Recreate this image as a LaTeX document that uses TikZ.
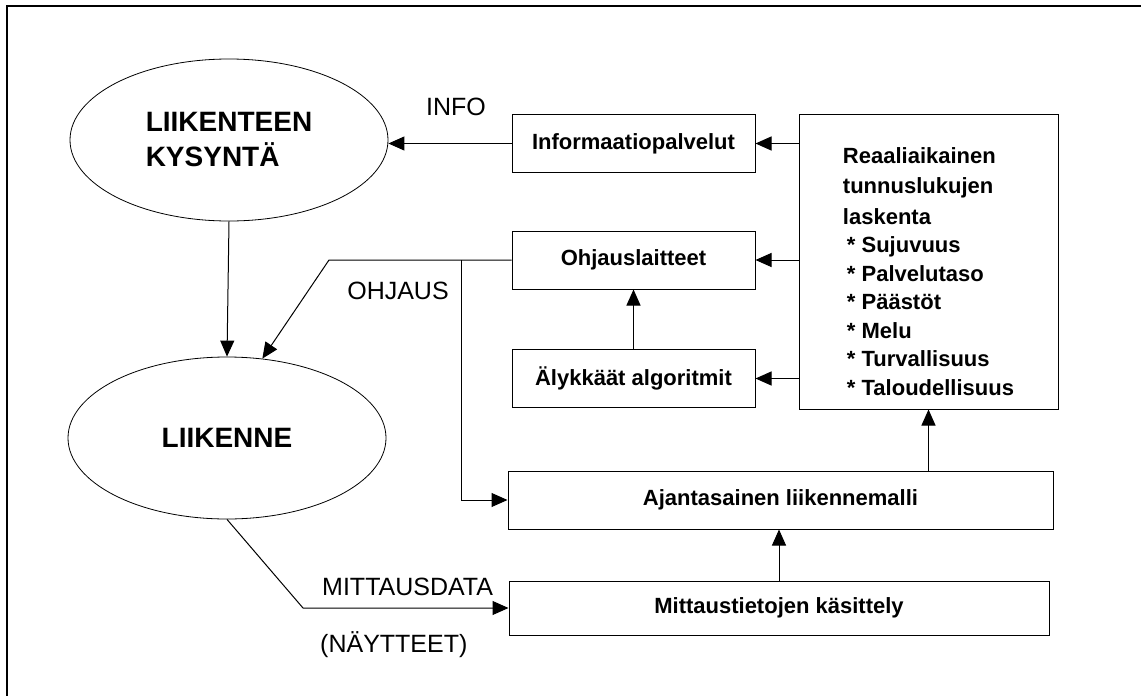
\documentclass[tikz,border=0pt]{standalone}
\usepackage{fontspec}
\setmainfont{Liberation Sans}
\usetikzlibrary{shapes.geometric,arrows.meta}
\newlength{\boxwidth}
\setlength{\boxwidth}{243pt}
\tikzset{
    procbox/.style={draw, line width=1pt, minimum width=\boxwidth, minimum height=58pt, inner sep=0pt, font=\fontsize{22}{26}\selectfont\bfseries},
    ovalnode/.style={draw, ellipse, line width=0.8pt, minimum width=318pt, minimum height=162pt, inner sep=0pt, align=left, font=\fontsize{28}{35}\selectfont\bfseries},
    conn/.style={line width=1pt, -{Triangle[length=16pt,width=14pt]}},
    edgelabel/.style={font=\fontsize{25}{30}\selectfont, inner sep=0pt},
}

\begin{document}
\begin{tikzpicture}[x=1pt, y=-1pt]
    \useasboundingbox (0,0) rectangle (1141,696);
    \draw[line width=2.5pt] (7,696) -- (7,6) -- (1141,6);

    \node[ovalnode] (kysynta) at (229,140) {LIIKENTEEN\\KYSYNTÄ};
    \node[ovalnode] (liikenne) at (227,438) {LIIKENNE};

    \node[procbox] (info) at (633.5,143.5) {Informaatiopalvelut};
    \node[procbox] (ohjaus) at (633.5,260) {Ohjauslaitteet};
    \node[procbox] (alykkaat) at (633.5,378.5) {Älykkäät algoritmit};
    \node[procbox, minimum width=259pt, minimum height=295pt, align=left, font=\fontsize{22}{28.5}\selectfont\bfseries] (laskenta) at (928.5,261.5)
        {\rule{0pt}{36pt}Reaaliaikainen\\[2pt]
         tunnuslukujen\\[2pt]
         laskenta\\
         \hspace{4pt}* Sujuvuus\\
         \hspace{4pt}* Palvelutaso\\
         \hspace{4pt}* Päästöt\\
         \hspace{4pt}* Melu\\
         \hspace{4pt}* Turvallisuus\\
         \hspace{4pt}* Taloudellisuus};
    \node[procbox, minimum width=545pt] (ajantasainen) at (780.5,500) {Ajantasainen liikennemalli};
    \node[procbox, minimum width=540pt, minimum height=54pt] (mittaus) at (779,608) {Mittaustietojen käsittely};

    \coordinate (ohjtaite) at (329,260);
    \coordinate (haara) at (461,260);
    \coordinate (mtaite) at (303,608);

    \draw[conn] (info.west) -- (info.west -| kysynta.east);
    \draw[conn] (laskenta.west |- info.east) -- (info.east);
    \draw[conn] (laskenta.west |- ohjaus.east) -- (ohjaus.east);
    \draw[conn] (laskenta.west |- alykkaat.east) -- (alykkaat.east);
    \draw[conn] (alykkaat.north) -- (ohjaus.south);
    \draw[conn] (kysynta.south) -- (liikenne.north);
    \draw[conn] (ohjaus.west) -- (ohjtaite) -- (liikenne.66);
    \draw[conn] (haara) |- (ajantasainen.west);
    \draw[conn] (liikenne.south) -- (mtaite) -- (mittaus.west);
    \draw[conn] (mittaus.north) -- (mittaus.north |- ajantasainen.south);
    \draw[conn] (laskenta.south |- ajantasainen.north) -- (laskenta.south);

    \node[edgelabel] (infolabel) at (456,107) {INFO};
    \node[edgelabel] (ohjauslabel) at (398,291) {OHJAUS};
    \node[edgelabel, anchor=west] (mittauslabel) at (322,587) {MITTAUSDATA};
    \node[edgelabel, anchor=west] (nayttlabel) at (320,645) {(NÄYTTEET)};
\end{tikzpicture}
\end{document}
